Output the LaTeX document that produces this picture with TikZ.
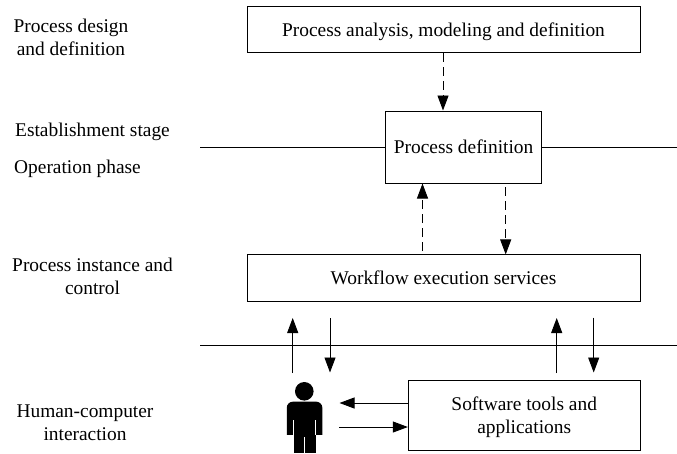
\documentclass[tikz,border=0pt]{standalone}
\usepackage{fontspec}
\setmainfont{Liberation Serif}
\usetikzlibrary{arrows.meta}
\tikzset{
 boxn/.style={draw,line width=1pt,inner sep=0pt,align=center,font=\fontsize{19.4}{23}\selectfont},
 lab/.style={align=center,inner sep=0pt,font=\fontsize{19.4}{23}\selectfont},
 conn/.style={line width=0.9pt,-{Stealth[length=15pt,width=11pt,inset=0pt]}},
 dconn/.style={conn,dash pattern=on 9pt off 5pt},
 rule/.style={line width=0.9pt}
}
\begin{document}
\begin{tikzpicture}[x=1pt,y=-1pt]
\useasboundingbox (0,0) rectangle (677,453);
\fill[white] (0,0) rectangle (677,453);
\node[boxn,text depth=0pt,minimum width=393,minimum height=46] (a) at (443.5,29.7) {Process analysis, modeling and definition};
\node[boxn,minimum width=156,minimum height=72] (b) at (463.6,147) {Process definition};
\node[boxn,minimum width=393,minimum height=46.7] (c) at (443.5,278.3) {Workflow execution services};
\node[boxn,text depth=0pt,minimum width=231.7,minimum height=70] (d) at (524.2,415) {Software tools and\\applications};
\node[lab] (l1) at (71,37) {Process design\\and definition};
\node[lab,anchor=base west] (l2) at (15,136) {Establishment stage};
\node[lab,anchor=base west] (l3) at (14,173) {Operation phase};
\node[lab] (l4) at (92.5,276.5) {Process instance and\\control};
\node[lab] (l5) at (85,423) {Human-computer\\interaction};
\coordinate (r1a) at (200,147);
\coordinate (r1b) at (677,147);
\coordinate (r2a) at (200,345.5);
\coordinate (r2b) at (677,345.5);
\draw[rule] (r1a) -- (b.west);
\draw[rule] (b.east) -- (r1b);
\draw[rule] (r2a) -- (r2b);
% dashed connectors
\coordinate (t0) at (443,0);
\draw[dconn] (a.south -| t0) -- (b.north -| t0);
\coordinate (u1) at (422.5,251);
\draw[dconn] (u1) -- (b.south -| u1);
\coordinate (d1) at (505.7,187);
\draw[dconn] (d1) -- (c.north -| d1);
% solid connectors
\coordinate (p1) at (292.7,373);
\coordinate (p1t) at (292.7,318);
\draw[conn] (p1) -- (p1t);
\coordinate (p2t) at (330,318);
\coordinate (p2) at (330,372.5);
\draw[conn] (p2t) -- (p2);
\coordinate (s1) at (556.7,373);
\coordinate (s1t) at (556.7,318);
\draw[conn] (s1) -- (s1t);
\coordinate (s2t) at (593.7,317.5);
\coordinate (s2) at (593.7,372.5);
\draw[conn] (s2t) -- (s2);
\coordinate (h1) at (339.5,403);
\draw[conn] (d.west |- h1) -- (h1);
\coordinate (h2) at (339,427);
\draw[conn] (h2) -- (d.west |- h2);
% person
\fill (304.3,391.3) circle (9.3);
\fill[rounded corners=6pt] (286.8,445) -- (286.8,401.7) -- (322.3,401.7) -- (322.3,445) -- cycle;
\fill[white] (286,434.5) rectangle (294,446);
\fill[white] (315.8,434.5) rectangle (323,446);
\fill (294,430) rectangle (315.8,453);
\draw[white,line width=0.8pt] (293.7,420) -- (293.7,434.5);
\draw[white,line width=0.8pt] (315.7,420) -- (315.7,434.5);
\draw[white,line width=0.8pt] (304.3,437) -- (304.3,453);
\end{tikzpicture}
\end{document}
